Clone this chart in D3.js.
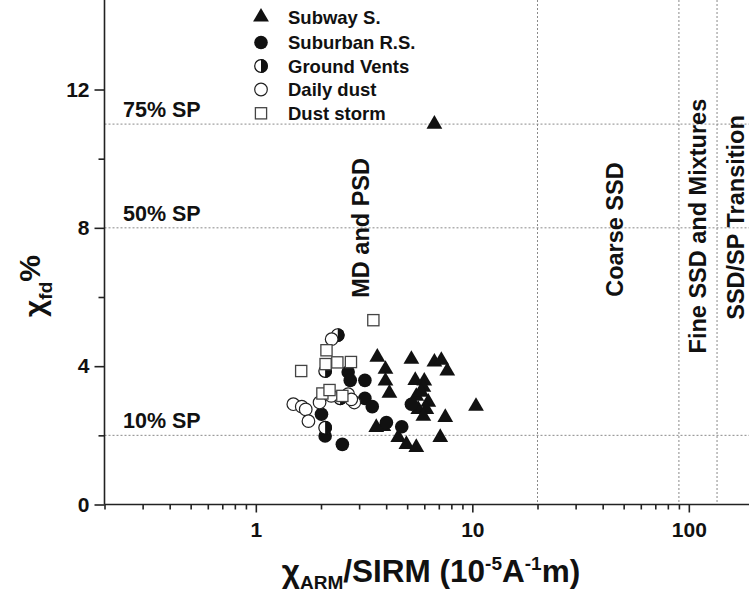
<!DOCTYPE html>
<html>
<head>
<meta charset="utf-8">
<script src="https://cdn.jsdelivr.net/npm/d3@7"></script>
<style>
  html, body { margin: 0; padding: 0; background: #fff; }
  svg { display: block; font-family: "Liberation Sans", Arial, sans-serif; font-weight: bold; }
</style>
</head>
<body>
<svg id="chart" width="749" height="595"></svg>
<script>
// χARM/SIRM (x, 10^-5 A^-1 m) and χfd% (y) for each sample group
const subwayX = [6.68, 3.64, 5.23, 6.68, 7.19, 7.66, 3.97, 3.97, 4.14, 5.45, 6.00, 5.94, 5.51, 5.81, 6.26, 5.63, 6.13, 5.94, 10.4, 7.50, 7.11, 3.60, 3.88, 4.55, 4.96, 5.51];
const subwayY = [11.0, 4.26, 4.20, 4.12, 4.17, 3.86, 3.91, 3.57, 3.22, 3.59, 3.57, 3.39, 3.13, 3.25, 2.96, 2.75, 2.75, 2.55, 2.84, 2.52, 1.94, 2.23, 2.26, 1.94, 1.74, 1.65];

const suburbanX = [2.67, 2.73, 3.19, 3.19, 3.45, 4.01, 4.72, 5.23, 2.01, 2.09, 2.51];
const suburbanY = [3.83, 3.59, 3.59, 3.07, 2.83, 2.37, 2.25, 2.90, 2.61, 1.98, 1.74];

const ventsX = [2.39, 2.09, 2.09, 2.45];
const ventsY = [4.90, 3.86, 2.22, 3.07];

const dailyX = [2.24, 1.49, 1.63, 1.70, 1.75, 1.97, 2.23, 2.67, 2.85, 2.76];
const dailyY = [4.78, 2.90, 2.83, 2.75, 2.41, 2.95, 3.14, 3.19, 2.95, 3.04];

const stormX = [3.49, 2.12, 1.62, 2.10, 2.38, 2.75, 2.03, 2.19, 2.51];
const stormY = [5.33, 4.46, 3.86, 4.06, 4.11, 4.12, 3.21, 3.31, 3.14];

const seriesNames = ["Subway S.", "Suburban R.S.", "Ground Vents", "Daily dust", "Dust storm"];

// superparamagnetic fraction guides (horizontal) and domain-state boundaries (vertical)
const spLevels = [2, 8, 11];
const spLabels = ["10% SP", "50% SP", "75% SP"];
const domainBounds = [20, 90, 135];
const domainLabels = ["MD and PSD", "Coarse SSD", "Fine SSD and Mixtures", "SSD/SP Transition"];

const xTickValues = [1, 10, 100];
const xMinorTicks = [0.2, 0.3, 0.4, 0.5, 0.6, 0.7, 0.8, 0.9, 2, 3, 4, 5, 6, 7, 8, 9, 20, 30, 40, 50, 60, 70, 80, 90];
const yTickValues = [0, 4, 8, 12];
const yMinorTicks = [2, 6, 10];

const svg = d3.select("#chart");
const W = 749, H = 595;
svg.append("rect").attr("width", W).attr("height", H).attr("fill", "#fff");

const x = d3.scaleLog().domain([0.2, 200]).range([104.5, 104.5 + 3 * 216.5]);
const y = d3.scaleLinear().domain([0, 14.6]).range([504.5, -0.4]);
const left = x(0.2), bottom = y(0);

const ink = "#111";
const guide = "#8a8a8a";

// dotted guide lines
const g = svg.append("g");
g.selectAll("line.h").data(spLevels).join("line")
  .attr("x1", left).attr("x2", W)
  .attr("y1", d => y(d)).attr("y2", d => y(d))
  .attr("stroke", guide).attr("stroke-width", 1).attr("stroke-dasharray", "2,2");
g.selectAll("line.v").data(domainBounds).join("line")
  .attr("x1", d => x(d)).attr("x2", d => x(d))
  .attr("y1", 0).attr("y2", bottom)
  .attr("stroke", guide).attr("stroke-width", 1).attr("stroke-dasharray", "2,2");

// SP labels sit just above their line
g.selectAll("text.sp").data(spLevels).join("text")
  .attr("x", 123).attr("y", d => y(d) - 7)
  .attr("font-size", 21.5).attr("fill", ink)
  .text((d, i) => spLabels[i]);

// rotated domain-state labels: [x value, y value]
const domainLabelPos = [[3.07, 8.0], [45.7, 7.95], [110.6, 8.05], [165.7, 8.3]];
g.selectAll("text.dom").data(domainLabels).join("text")
  .attr("transform", (d, i) => `translate(${x(domainLabelPos[i][0])},${y(domainLabelPos[i][1])}) rotate(-90)`)
  .attr("text-anchor", "middle").attr("dominant-baseline", "central")
  .attr("font-size", 23.5).attr("fill", ink)
  .text(d => d);

// axes
const xAxis = d3.axisBottom(x).tickValues(xTickValues).tickFormat(d3.format("d")).tickSize(8).tickPadding(10);
const xa = svg.append("g").attr("transform", `translate(0,${bottom})`).call(xAxis);
xa.select(".domain").attr("d", `M${left},0H${W}`);
svg.append("g").attr("transform", `translate(0,${bottom})`)
  .call(d3.axisBottom(x).tickValues(xMinorTicks).tickFormat("").tickSize(5))
  .select(".domain").remove();

const yAxis = d3.axisLeft(y).tickValues(yTickValues).tickFormat(d3.format("d")).tickSize(10).tickPadding(5);
const ya = svg.append("g").attr("transform", `translate(${left},0)`).call(yAxis);
ya.select(".domain").attr("d", `M0,${bottom}V0`);
svg.append("g").attr("transform", `translate(${left},0)`)
  .call(d3.axisLeft(y).tickValues(yMinorTicks).tickFormat("").tickSize(6))
  .select(".domain").remove();

svg.selectAll(".tick line, .domain").attr("stroke", "#222").attr("stroke-width", 1.6);
svg.selectAll(".tick text").attr("font-size", 21).attr("font-weight", "bold")
  .attr("font-family", "Liberation Sans, Arial, sans-serif").attr("fill", ink);

// axis titles
const xt = svg.append("text").attr("x", 431).attr("y", 582)
  .attr("text-anchor", "middle").attr("font-size", 31.5).attr("fill", ink);
xt.append("tspan").text("χ");
xt.append("tspan").attr("font-size", 19).attr("dy", 7).text("ARM");
xt.append("tspan").attr("dy", -7).text("/SIRM (10");
xt.append("tspan").attr("font-size", 19).attr("dy", -12).text("-5");
xt.append("tspan").attr("dy", 12).text("A");
xt.append("tspan").attr("font-size", 19).attr("dy", -12).text("-1");
xt.append("tspan").attr("dy", 12).text("m)");

const yt = svg.append("text").attr("transform", "translate(45,286) rotate(-90)")
  .attr("text-anchor", "middle").attr("font-size", 30).attr("fill", ink);
yt.append("tspan").text("χ");
yt.append("tspan").attr("font-size", 19).attr("dy", 7).text("fd");
yt.append("tspan").attr("dy", -12).text("%");

// marker painters
const tri = d3.symbol(d3.symbolTriangle, 108)();
function drawTriangle(sel) { sel.append("path").attr("d", tri).attr("fill", ink); }
function drawFilled(sel) { sel.append("circle").attr("r", 6.8).attr("fill", ink); }
function drawOpen(sel) {
  sel.append("circle").attr("r", 6.3).attr("fill", "#fff").attr("stroke", "#222").attr("stroke-width", 1.2);
}
function drawHalf(sel) {
  sel.append("circle").attr("r", 6.3).attr("fill", "#fff").attr("stroke", "#111").attr("stroke-width", 1.2);
  sel.append("path").attr("d", d3.arc()({innerRadius: 0, outerRadius: 6.9, startAngle: 0, endAngle: Math.PI})).attr("fill", ink);
}
function drawSquare(sel) {
  sel.append("rect").attr("x", -5.6).attr("y", -5.6).attr("width", 11.2).attr("height", 11.2)
    .attr("fill", "#fff").attr("stroke", "#444").attr("stroke-width", 1.3);
}

const painters = [drawTriangle, drawFilled, drawHalf, drawOpen, drawSquare];
const series = [
  [subwayX, subwayY], [suburbanX, suburbanY], [ventsX, ventsY], [dailyX, dailyY], [stormX, stormY]
];

const marks = svg.append("g");
series.forEach(([xs, ys], si) => {
  const pts = xs.map((v, i) => ({x: v, y: ys[i]}));
  marks.append("g").selectAll("g").data(pts).join("g")
    .attr("transform", d => `translate(${x(d.x)},${y(d.y)})`)
    .each(function () { painters[si](d3.select(this)); });
});

// legend
const legend = svg.append("g");
const rowY = [17, 42.5, 66, 89.5, 113.3];
seriesNames.forEach((name, i) => {
  const row = legend.append("g").attr("transform", `translate(261,${rowY[i]})`);
  painters[i](row);
  row.append("text").attr("x", 27).attr("y", 0).attr("dominant-baseline", "central")
    .attr("font-size", 18.5).attr("fill", ink).text(name);
});
</script>
</body>
</html>
